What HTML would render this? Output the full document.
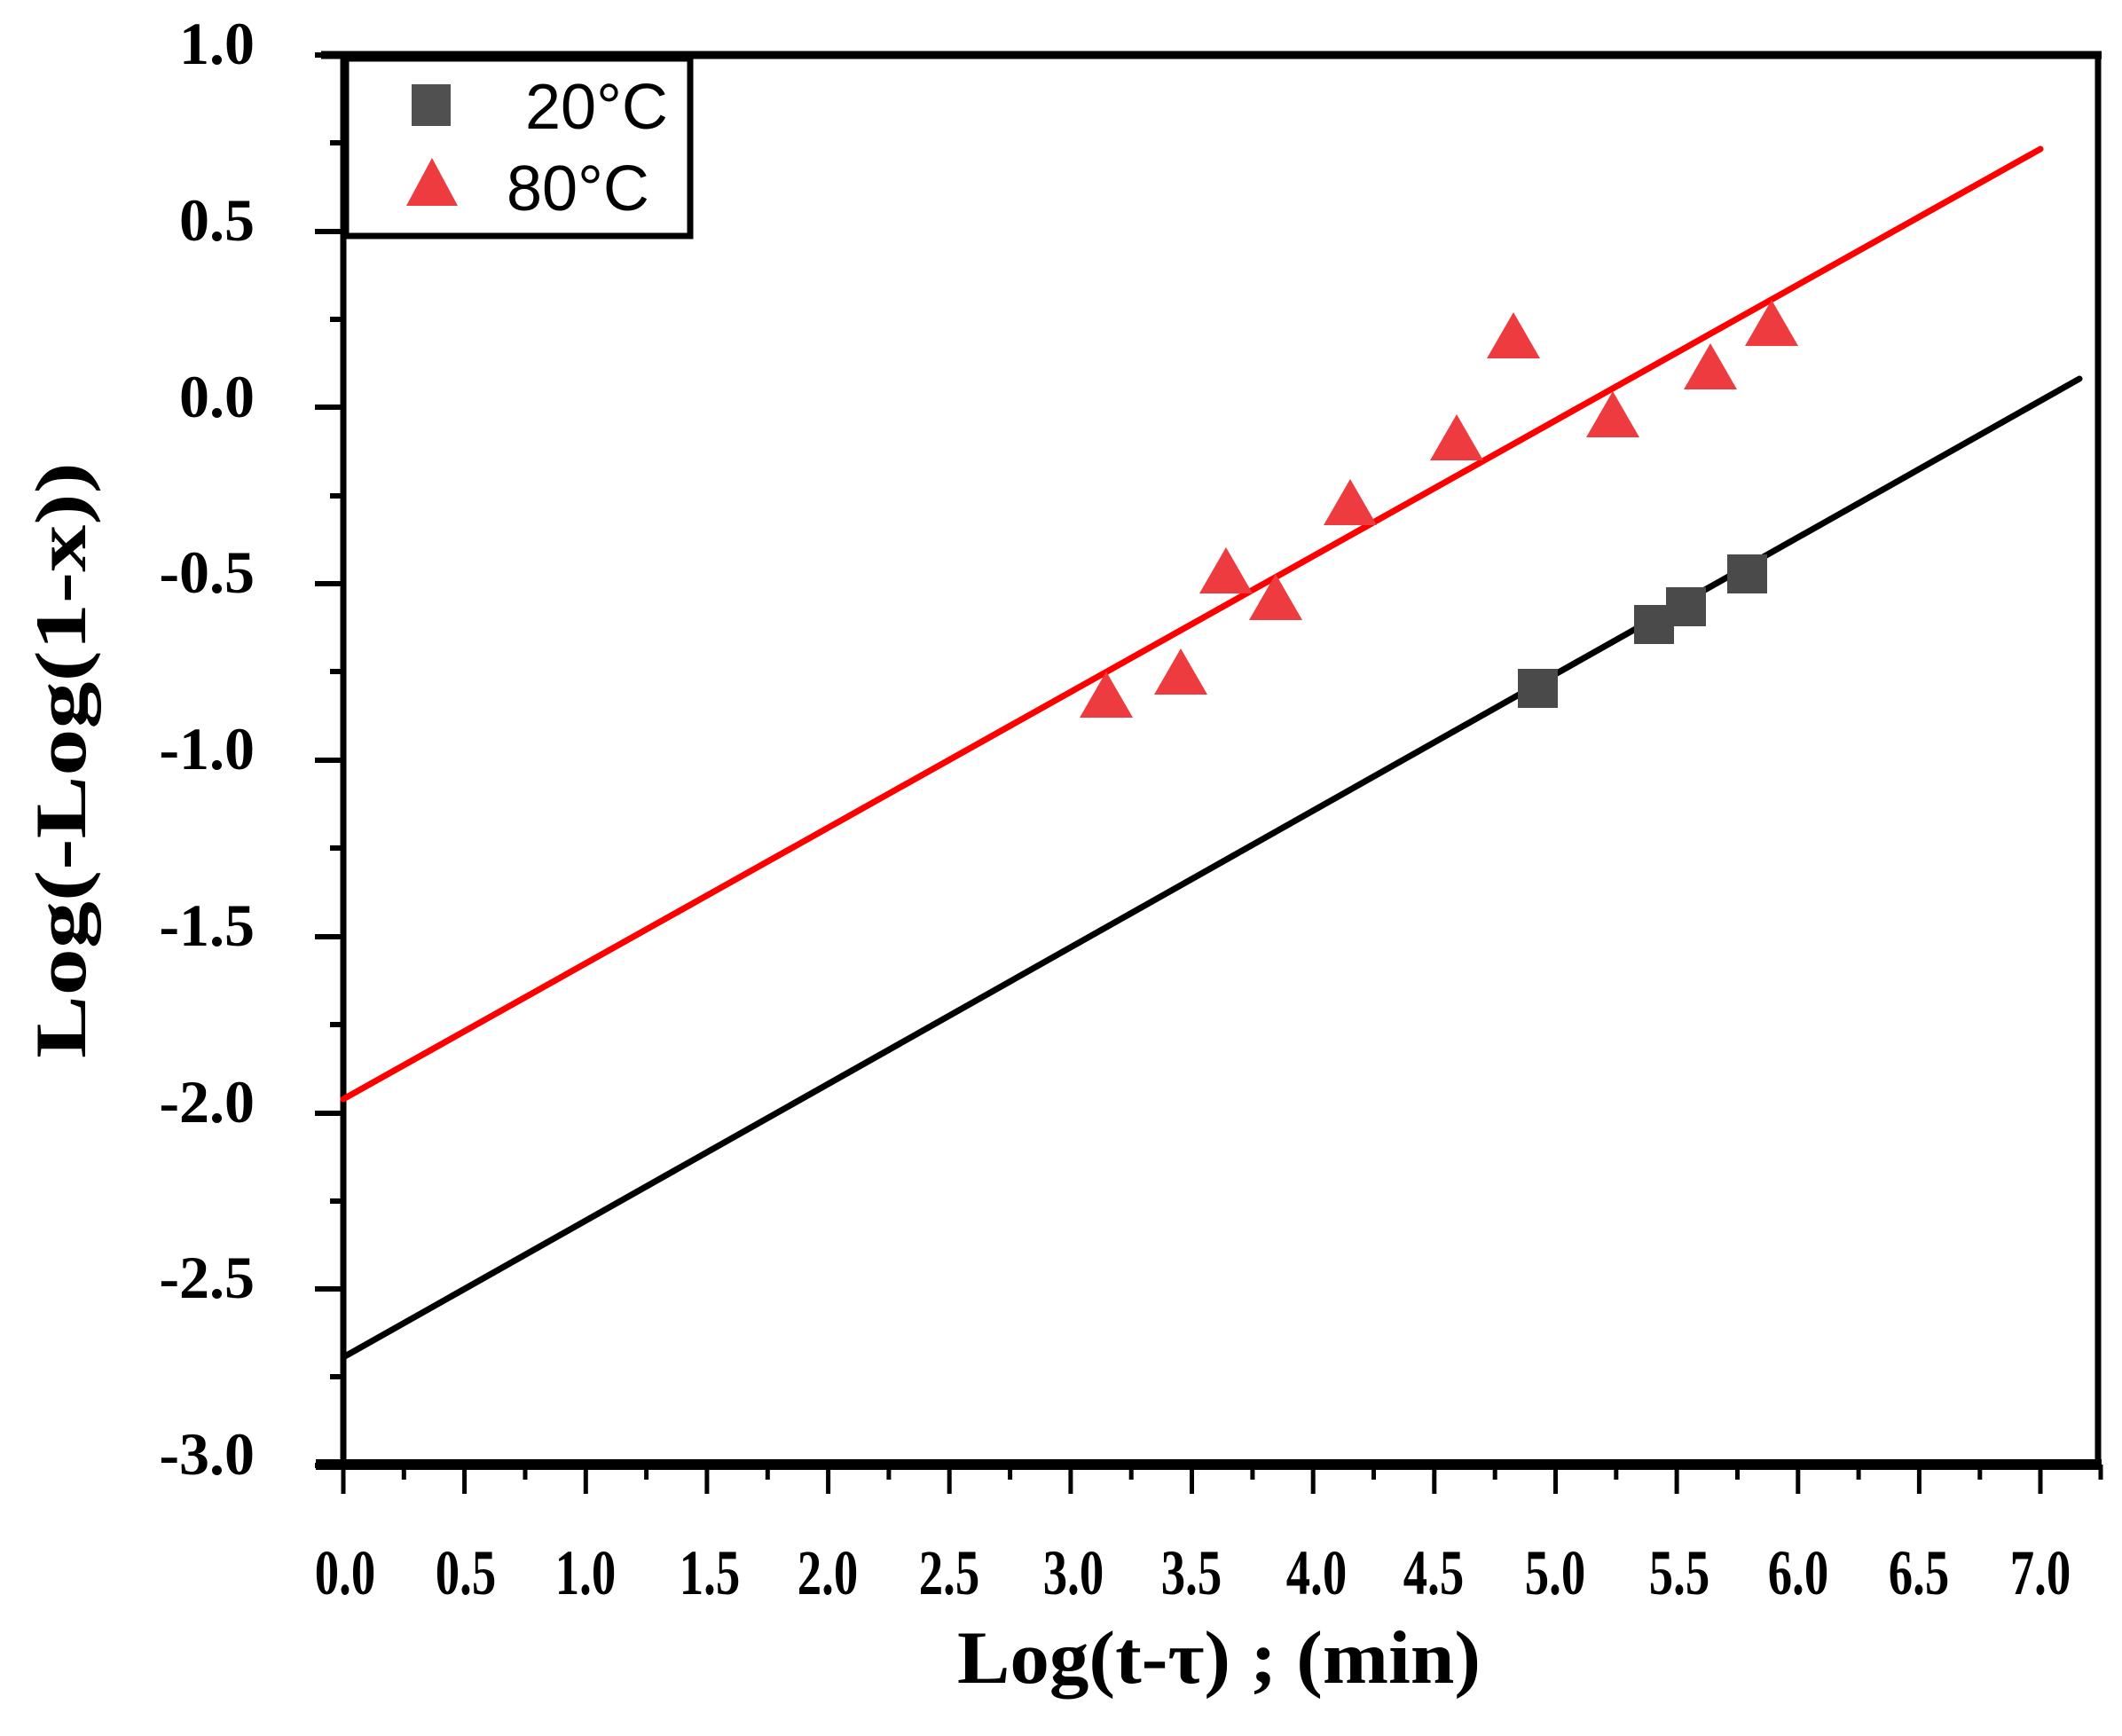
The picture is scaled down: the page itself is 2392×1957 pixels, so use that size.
<!DOCTYPE html>
<html><head><meta charset="utf-8"><style>
html,body{margin:0;padding:0;background:#fff;}
svg{display:block;}
</style></head><body>
<svg width="2392" height="1957" viewBox="0 0 2392 1957" xmlns="http://www.w3.org/2000/svg">
<rect width="2392" height="1957" fill="#fff"/>
<g stroke="#000" fill="none">
<line x1="387" y1="58" x2="387" y2="1656" stroke-width="7"/>
<line x1="2365" y1="58" x2="2365" y2="1656" stroke-width="7"/>
<line x1="362" y1="62" x2="2369" y2="62" stroke-width="9"/>
<line x1="356" y1="1651" x2="2369" y2="1651" stroke-width="12"/>
<g stroke-width="6">
<line x1="355" y1="62" x2="387" y2="62"/>
<line x1="355" y1="261" x2="387" y2="261"/>
<line x1="355" y1="459" x2="387" y2="459"/>
<line x1="355" y1="658" x2="387" y2="658"/>
<line x1="355" y1="857" x2="387" y2="857"/>
<line x1="355" y1="1056" x2="387" y2="1056"/>
<line x1="355" y1="1255" x2="387" y2="1255"/>
<line x1="355" y1="1453" x2="387" y2="1453"/>
<line x1="355" y1="1652" x2="387" y2="1652"/>
<line x1="372" y1="161" x2="387" y2="161"/>
<line x1="372" y1="360" x2="387" y2="360"/>
<line x1="372" y1="559" x2="387" y2="559"/>
<line x1="372" y1="757" x2="387" y2="757"/>
<line x1="372" y1="956" x2="387" y2="956"/>
<line x1="372" y1="1155" x2="387" y2="1155"/>
<line x1="372" y1="1354" x2="387" y2="1354"/>
<line x1="372" y1="1552" x2="387" y2="1552"/>
</g>
<g stroke-width="5">
<line x1="387" y1="1651" x2="387" y2="1684"/><line x1="523.6" y1="1651" x2="523.6" y2="1684"/><line x1="660.3" y1="1651" x2="660.3" y2="1684"/><line x1="796.9" y1="1651" x2="796.9" y2="1684"/><line x1="933.6" y1="1651" x2="933.6" y2="1684"/><line x1="1070.2" y1="1651" x2="1070.2" y2="1684"/><line x1="1206.9" y1="1651" x2="1206.9" y2="1684"/><line x1="1343.5" y1="1651" x2="1343.5" y2="1684"/><line x1="1480.2" y1="1651" x2="1480.2" y2="1684"/><line x1="1616.8" y1="1651" x2="1616.8" y2="1684"/><line x1="1753.5" y1="1651" x2="1753.5" y2="1684"/><line x1="1890.1" y1="1651" x2="1890.1" y2="1684"/><line x1="2026.8" y1="1651" x2="2026.8" y2="1684"/><line x1="2163.4" y1="1651" x2="2163.4" y2="1684"/><line x1="2300" y1="1651" x2="2300" y2="1684"/>
<line x1="455.3" y1="1651" x2="455.3" y2="1668"/><line x1="592" y1="1651" x2="592" y2="1668"/><line x1="728.6" y1="1651" x2="728.6" y2="1668"/><line x1="865.3" y1="1651" x2="865.3" y2="1668"/><line x1="1001.9" y1="1651" x2="1001.9" y2="1668"/><line x1="1138.6" y1="1651" x2="1138.6" y2="1668"/><line x1="1275.2" y1="1651" x2="1275.2" y2="1668"/><line x1="1411.9" y1="1651" x2="1411.9" y2="1668"/><line x1="1548.5" y1="1651" x2="1548.5" y2="1668"/><line x1="1685.2" y1="1651" x2="1685.2" y2="1668"/><line x1="1821.8" y1="1651" x2="1821.8" y2="1668"/><line x1="1958.5" y1="1651" x2="1958.5" y2="1668"/><line x1="2095.1" y1="1651" x2="2095.1" y2="1668"/><line x1="2231.8" y1="1651" x2="2231.8" y2="1668"/><line x1="2368" y1="1651" x2="2368" y2="1668"/>
</g>
</g>
<line x1="387" y1="1239" x2="2300" y2="168" stroke="#ff0000" stroke-width="7" stroke-linecap="round"/>
<line x1="387" y1="1530" x2="2344" y2="427" stroke="#000" stroke-width="7" stroke-linecap="round"/>
<g fill="#ee3b3f">
<polygon points="1247,757 1277,809 1217,809"/>
<polygon points="1331,731 1361,783 1301,783"/>
<polygon points="1382,617 1412,669 1352,669"/>
<polygon points="1438,647 1468,699 1408,699"/>
<polygon points="1522,540 1552,592 1492,592"/>
<polygon points="1642,467 1672,519 1612,519"/>
<polygon points="1706,352 1736,404 1676,404"/>
<polygon points="1818,441 1848,493 1788,493"/>
<polygon points="1928,387 1958,439 1898,439"/>
<polygon points="1997,338 2027,390 1967,390"/>
</g>
<g fill="#4a4a4a">
<rect x="1711" y="754" width="45" height="44"/>
<rect x="1842" y="682" width="45" height="44"/>
<rect x="1878" y="662" width="45" height="44"/>
<rect x="1947" y="625" width="45" height="44"/>
</g>
<rect x="390" y="66" width="388" height="200" fill="#fff" stroke="#000" stroke-width="7"/>
<rect x="464" y="95" width="44" height="47" fill="#505050"/>
<polygon points="487,178 516,232 458,232" fill="#ee3b3f"/>
<g font-family="Liberation Sans, sans-serif" font-size="72" fill="#000">
<text x="592" y="145">20°C</text>
<text x="571" y="237">80°C</text>
</g>
<g font-family="Liberation Serif, serif" font-weight="bold" font-size="68" fill="#000" text-anchor="end">
<text x="287" y="72">1.0</text>
<text x="287" y="271">0.5</text>
<text x="287" y="470">0.0</text>
<text x="287" y="668">-0.5</text>
<text x="287" y="867">-1.0</text>
<text x="287" y="1066">-1.5</text>
<text x="287" y="1265">-2.0</text>
<text x="287" y="1463">-2.5</text>
<text x="287" y="1662">-3.0</text>
</g>
<g font-family="Liberation Serif, serif" font-weight="bold" font-size="72" fill="#000" text-anchor="middle">
<text transform="translate(389,1797) scale(0.76,1)">0.0</text>
<text transform="translate(525,1797) scale(0.76,1)">0.5</text>
<text transform="translate(660,1797) scale(0.76,1)">1.0</text>
<text transform="translate(800,1797) scale(0.76,1)">1.5</text>
<text transform="translate(933,1797) scale(0.76,1)">2.0</text>
<text transform="translate(1070,1797) scale(0.76,1)">2.5</text>
<text transform="translate(1210,1797) scale(0.76,1)">3.0</text>
<text transform="translate(1343,1797) scale(0.76,1)">3.5</text>
<text transform="translate(1484,1797) scale(0.76,1)">4.0</text>
<text transform="translate(1616,1797) scale(0.76,1)">4.5</text>
<text transform="translate(1753,1797) scale(0.76,1)">5.0</text>
<text transform="translate(1893,1797) scale(0.76,1)">5.5</text>
<text transform="translate(2027,1797) scale(0.76,1)">6.0</text>
<text transform="translate(2163,1797) scale(0.76,1)">6.5</text>
<text transform="translate(2300,1797) scale(0.76,1)">7.0</text>
</g>
<text x="1374" y="1897" font-family="Liberation Serif, serif" font-weight="bold" font-size="85" text-anchor="middle" textLength="590" lengthAdjust="spacingAndGlyphs">Log(t-τ) ; (min)</text>
<text transform="translate(96,857) rotate(-90)" font-family="Liberation Serif, serif" font-weight="bold" font-size="82" text-anchor="middle" textLength="672" lengthAdjust="spacingAndGlyphs">Log(-Log(1-x))</text>
</svg>
</body></html>
